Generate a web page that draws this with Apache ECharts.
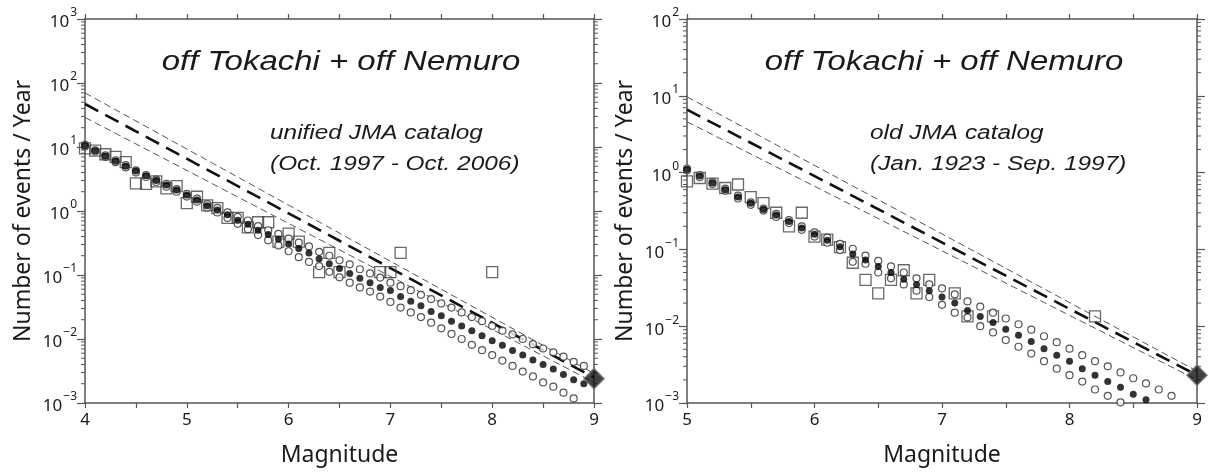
<!DOCTYPE html>
<html>
<head>
<meta charset="utf-8">
<script src="https://cdn.jsdelivr.net/npm/echarts@6/dist/echarts.min.js"></script>
<style>
  html, body { margin: 0; padding: 0; background: #fff; }
  #chart { width: 1209px; height: 472px; }
</style>
</head>
<body>
<div id="chart"></div>
<script>
// ---- Unified JMA catalog (Oct. 1997 - Oct. 2006) ----
const leftMags = [4.0, 4.1, 4.2, 4.3, 4.4, 4.5, 4.6, 4.7, 4.8, 4.9,
                  5.0, 5.1, 5.2, 5.3, 5.4, 5.5, 5.6, 5.7, 5.8, 5.9,
                  6.0, 6.1, 6.2, 6.3, 6.4, 6.5, 6.6, 6.7, 6.8, 6.9,
                  7.0, 7.1, 7.2, 7.3, 7.4, 7.5, 7.6, 7.7, 7.8, 7.9,
                  8.0, 8.1, 8.2, 8.3, 8.4, 8.5, 8.6, 8.7, 8.8, 8.9];
const leftModel = [10.5, 8.7, 7.2, 6.0, 5.0, 4.2, 3.55, 3.0, 2.55, 2.12,
                   1.78, 1.49, 1.21, 1.04, 0.87, 0.72, 0.62, 0.50, 0.43, 0.365,
                   0.305, 0.26, 0.22, 0.18, 0.15, 0.126, 0.106, 0.089, 0.076, 0.064,
                   0.057, 0.046, 0.039, 0.033, 0.027, 0.023, 0.019, 0.016, 0.0135, 0.0112,
                   0.0094, 0.0080, 0.0066, 0.0056, 0.0047, 0.0040, 0.0034, 0.0028, 0.0023, 0.0020];
const leftUpper = [10.8, 8.9, 7.4, 6.2, 5.2, 4.3, 3.65, 3.1, 2.65, 2.2,
                   1.85, 1.56, 1.28, 1.12, 0.95, 0.81, 0.71, 0.58, 0.50, 0.44,
                   0.37, 0.32, 0.28, 0.23, 0.20, 0.17, 0.147, 0.123, 0.106, 0.091,
                   0.076, 0.067, 0.058, 0.049, 0.042, 0.036, 0.031, 0.026, 0.022, 0.019,
                   0.016, 0.0135, 0.0118, 0.010, 0.0083, 0.0071, 0.0062, 0.0053, 0.0044, 0.0038];
const leftLower = [10.2, 8.5, 7.0, 5.8, 4.8, 4.0, 3.4, 2.85, 2.4, 2.0,
                   1.68, 1.40, 1.13, 0.95, 0.78, 0.63, 0.52, 0.42, 0.35, 0.29,
                   0.235, 0.19, 0.16, 0.138, 0.112, 0.092, 0.076, 0.064, 0.055, 0.046,
                   0.038, 0.031, 0.026, 0.022, 0.018, 0.0147, 0.012, 0.010, 0.0081, 0.0067,
                   0.0056, 0.0046, 0.0038, 0.0031, 0.0026, 0.0021, 0.0018, 0.00145, 0.00118];
const leftObsMags  = [4.0, 4.1, 4.2, 4.3, 4.4, 4.5, 4.6, 4.7, 4.8, 4.9,
                      5.0, 5.1, 5.2, 5.3, 5.4, 5.5, 5.6, 5.7, 5.8, 5.9,
                      6.0, 6.1, 6.3, 6.4, 6.5, 6.9, 7.0, 7.1, 8.0];
const leftObsRates = [9.5, 8.8, 7.7, 7.0, 5.8, 2.7, 2.65, 2.9, 2.26, 2.45,
                      1.33, 1.67, 1.22, 1.11, 0.78, 0.78, 0.556, 0.667, 0.667, 0.333,
                      0.444, 0.333, 0.111, 0.222, 0.111, 0.111, 0.111, 0.222, 0.111];
const leftLineMags = [4, 9];
const leftLineUpper = [70, 0.0029];
const leftLineMid   = [47, 0.0025];
const leftLineLower = [29, 0.0021];
const leftTarget = [9, 0.0024];

// ---- Old JMA catalog (Jan. 1923 - Sep. 1997) ----
const rightMags = [5.0, 5.1, 5.2, 5.3, 5.4, 5.5, 5.6, 5.7, 5.8, 5.9,
                   6.0, 6.1, 6.2, 6.3, 6.4, 6.5, 6.6, 6.7, 6.8, 6.9,
                   7.0, 7.1, 7.2, 7.3, 7.4, 7.5, 7.6, 7.7, 7.8, 7.9,
                   8.0, 8.1, 8.2, 8.3, 8.4, 8.5, 8.6, 8.7, 8.8];
const rightModel = [1.1, 0.9, 0.73, 0.60, 0.48, 0.40, 0.33, 0.28, 0.23, 0.19,
                    0.157, 0.132, 0.108, 0.087, 0.073, 0.060, 0.050, 0.041, 0.035, 0.029,
                    0.024, 0.020, 0.016, 0.0134, 0.0112, 0.0091, 0.0076, 0.0063, 0.0051, 0.0042,
                    0.0035, 0.0028, 0.0023, 0.0019, 0.0016, 0.0013, 0.0011];
const rightUpper = [1.13, 0.93, 0.75, 0.62, 0.50, 0.41, 0.34, 0.29, 0.24, 0.20,
                    0.167, 0.142, 0.118, 0.102, 0.083, 0.071, 0.060, 0.050, 0.042, 0.035,
                    0.031, 0.026, 0.021, 0.018, 0.015, 0.0126, 0.0106, 0.0090, 0.0074, 0.0062,
                    0.0051, 0.0042, 0.0035, 0.0030, 0.0025, 0.0021, 0.0018, 0.0015, 0.00124];
const rightLower = [1.07, 0.87, 0.71, 0.58, 0.46, 0.38, 0.32, 0.265, 0.22, 0.18,
                    0.147, 0.122, 0.098, 0.069, 0.065, 0.050, 0.042, 0.035, 0.029, 0.024,
                    0.019, 0.015, 0.013, 0.010, 0.0083, 0.0066, 0.0054, 0.0044, 0.0035, 0.0028,
                    0.0023, 0.0019, 0.0015, 0.00124, 0.00102];
const rightObsMags  = [5.0, 5.1, 5.2, 5.3, 5.4, 5.5, 5.6, 5.7, 5.8, 5.9,
                       6.0, 6.1, 6.2, 6.3, 6.4, 6.5, 6.6, 6.7, 6.8, 6.9,
                       7.1, 7.2, 7.4, 8.2];
const rightObsRates = [0.77, 0.85, 0.72, 0.63, 0.70, 0.48, 0.40, 0.30, 0.20, 0.30,
                       0.147, 0.134, 0.107, 0.067, 0.040, 0.0268, 0.040, 0.0535, 0.0268, 0.040,
                       0.0268, 0.0134, 0.0134, 0.0134];
const rightLineMags = [5, 9];
const rightLineUpper = [9.7, 0.0026];
const rightLineMid   = [6.6, 0.0023];
const rightLineLower = [4.6, 0.0020];
const rightTarget = [9, 0.0023];

const titleText = 'off Tokachi + off Nemuro';
const leftNote = ['unified JMA catalog', '(Oct. 1997 - Oct. 2006)'];
const rightNote = ['old JMA catalog', '(Jan. 1923 - Sep. 1997)'];
const yTitle = 'Number of events / Year';
const xTitle = 'Magnitude';

// ---- helpers ----
const zip = (xs, ys) => ys.map((y, i) => [xs[i], y]);
const AXIS = '#555';
const TEXT = '#1a1a1a';
const LABEL_FONT = '"Noto Sans", "Open Sans", sans-serif';
const ITALIC_FONT = '"Liberation Sans", Arial, sans-serif';

function powLabel(v) {
  const e = Math.round(Math.log10(v));
  const s = e < 0 ? '\u2212' + (-e) : String(e);
  return '{b|10}{s|' + s + '}';
}

// minor log ticks (2..9 per decade) on both vertical edges of a panel
function minorValues(minExp, maxExp) {
  const out = [];
  for (let e = minExp; e < maxExp; e++) {
    for (let k = 2; k <= 9; k++) out.push(k * Math.pow(10, e));
  }
  return out;
}
function minorTickSeries(idx, xMin, xMax, minExp, maxExp) {
  return {
    type: 'custom', xAxisIndex: idx * 2, yAxisIndex: idx * 2, silent: true, z: 1,
    data: minorValues(minExp, maxExp).map(v => [xMin, v]),
    renderItem: function (params, api) {
      const v = api.value(1);
      const pL = api.coord([xMin, v]);
      const pR = api.coord([xMax, v]);
      const st = { stroke: AXIS, lineWidth: 1 };
      return {
        type: 'group',
        children: [
          { type: 'line', shape: { x1: pL[0] - 4, y1: pL[1], x2: pL[0], y2: pL[1] }, style: st },
          { type: 'line', shape: { x1: pR[0], y1: pR[1], x2: pR[0] + 4, y2: pR[1] }, style: st }
        ]
      };
    }
  };
}

function xAxes(idx, min, max) {
  const common = {
    type: 'value', gridIndex: idx, min: min, max: max, interval: 0.5,
    axisLine: { show: true, onZero: false, lineStyle: { color: AXIS, width: 1.5 } },
    axisTick: { show: true, inside: false, length: 5, lineStyle: { color: AXIS, width: 1.2 } },
    splitLine: { show: false }
  };
  return [
    Object.assign({}, common, {
      position: 'bottom',
      name: xTitle, nameLocation: 'middle', nameGap: 41,
      nameTextStyle: { fontFamily: LABEL_FONT, fontSize: 23, color: TEXT },
      axisLabel: {
        margin: 9, fontFamily: LABEL_FONT, fontSize: 17, color: TEXT,
        formatter: v => (Math.abs(v - Math.round(v)) < 1e-9 ? String(Math.round(v)) : '')
      }
    }),
    Object.assign({}, common, { position: 'top', axisLabel: { show: false } })
  ];
}

function yAxes(idx, min, max, splits) {
  const common = {
    type: 'log', logBase: 10, gridIndex: idx, min: min, max: max, splitNumber: splits,
    axisLine: { show: true, onZero: false, lineStyle: { color: AXIS, width: 1.5 } },
    axisTick: { show: true, inside: false, length: 8, lineStyle: { color: AXIS, width: 1.2 } },
    splitLine: { show: false },
    minorTick: { show: false }
  };
  return [
    Object.assign({}, common, {
      position: 'left',
      name: yTitle, nameLocation: 'middle', nameRotate: 90, nameGap: 50,
      nameTextStyle: { fontFamily: LABEL_FONT, fontSize: 23, color: TEXT },
      axisLabel: {
        margin: 8, color: TEXT,
        formatter: powLabel,
        rich: {
          b: { fontFamily: LABEL_FONT, fontSize: 17, color: TEXT, lineHeight: 24, verticalAlign: 'bottom' },
          s: { fontFamily: LABEL_FONT, fontSize: 12, color: TEXT, lineHeight: 24, verticalAlign: 'top', padding: [0, 0, 0, 1] }
        }
      }
    }),
    Object.assign({}, common, { position: 'right', axisLabel: { show: false } })
  ];
}

function panelSeries(idx, d) {
  const ax = { xAxisIndex: idx * 2, yAxisIndex: idx * 2 };
  const thin = { color: AXIS, width: 1, type: [7, 4] };
  return [
    Object.assign({ type: 'line', data: zip(d.lineMags, d.lineUpper), symbol: 'none', z: 2, silent: true,
      lineStyle: thin }, ax),
    Object.assign({ type: 'line', data: zip(d.lineMags, d.lineLower), symbol: 'none', z: 2, silent: true,
      lineStyle: thin }, ax),
    Object.assign({ type: 'line', data: zip(d.lineMags, d.lineMid), symbol: 'none', z: 2, silent: true,
      lineStyle: { color: '#111', width: 2.6, type: [15, 8] } }, ax),
    Object.assign({ type: 'scatter', data: zip(d.obsMags, d.obsRates), symbol: 'rect', symbolSize: 11, z: 3, clip: false,
      itemStyle: { color: 'rgba(255,255,255,0)', borderColor: '#444', borderWidth: 1.3 } }, ax),
    Object.assign({ type: 'scatter', data: zip(d.mags, d.upper), symbol: 'circle', symbolSize: 7, z: 4, clip: false,
      itemStyle: { color: '#fff', borderColor: '#2a2a2a', borderWidth: 1.2 } }, ax),
    Object.assign({ type: 'scatter', data: zip(d.mags, d.lower), symbol: 'circle', symbolSize: 7, z: 4, clip: false,
      itemStyle: { color: '#fff', borderColor: '#2a2a2a', borderWidth: 1.2 } }, ax),
    Object.assign({ type: 'scatter', data: zip(d.mags, d.model), symbol: 'circle', symbolSize: 7, z: 5, clip: false,
      itemStyle: { color: '#000' } }, ax),
    Object.assign({ type: 'scatter', data: [d.target], symbol: 'diamond', symbolSize: 20, z: 6, clip: false,
      itemStyle: { color: '#111', borderColor: '#6a6a6a', borderWidth: 1.6 } }, ax)
  ];
}

function noteText(x, y, str, size, align) {
  return {
    type: 'text', x: x, y: y, scaleX: 1.22, z: 50, silent: true,
    style: {
      text: str, fontFamily: ITALIC_FONT, fontStyle: 'italic', fontSize: size,
      fill: TEXT, align: align, verticalAlign: 'middle'
    }
  };
}

const chart = echarts.init(document.getElementById('chart'), null, { renderer: 'canvas' });
chart.setOption({
  animation: false,
  backgroundColor: '#fff',
  grid: [
    { left: 85, right: 615, top: 19, bottom: 69, show: false },
    { left: 687, right: 12, top: 19, bottom: 69, show: false }
  ],
  xAxis: xAxes(0, 4, 9).concat(xAxes(1, 5, 9)),
  yAxis: yAxes(0, 0.001, 1000, 6).concat(yAxes(1, 0.001, 100, 5)),
  series: []
    .concat(panelSeries(0, {
      mags: leftMags, model: leftModel, upper: leftUpper, lower: leftLower,
      obsMags: leftObsMags, obsRates: leftObsRates,
      lineMags: leftLineMags, lineUpper: leftLineUpper, lineMid: leftLineMid, lineLower: leftLineLower,
      target: leftTarget
    }))
    .concat(panelSeries(1, {
      mags: rightMags, model: rightModel, upper: rightUpper, lower: rightLower,
      obsMags: rightObsMags, obsRates: rightObsRates,
      lineMags: rightLineMags, lineUpper: rightLineUpper, lineMid: rightLineMid, lineLower: rightLineLower,
      target: rightTarget
    }))
    .concat([minorTickSeries(0, 4, 9, -3, 3), minorTickSeries(1, 5, 9, -3, 2)]),
  graphic: [
    noteText(341, 62, titleText, 27, 'center'),
    noteText(944, 62, titleText, 27, 'center'),
    noteText(270, 133, leftNote[0], 20, 'left'),
    noteText(270, 164, leftNote[1], 20, 'left'),
    noteText(870, 133, rightNote[0], 20, 'left'),
    noteText(870, 164, rightNote[1], 20, 'left')
  ]
});
</script>
</body>
</html>
